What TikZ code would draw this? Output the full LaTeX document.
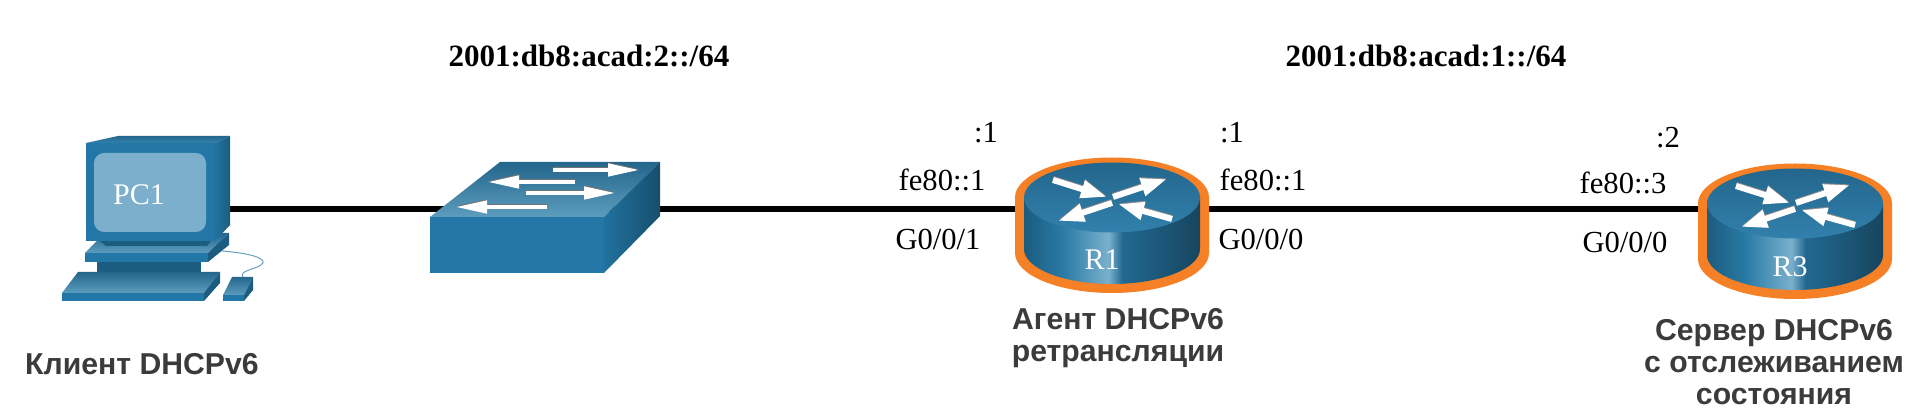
\documentclass[tikz,border=0pt]{standalone}
\usepackage{fontspec}
\setmainfont{Liberation Serif}
\setsansfont{Liberation Sans}
\usetikzlibrary{arrows.meta}
\definecolor{iconfront}{HTML}{2277A6}
\definecolor{icondark}{HTML}{1B5C80}
\definecolor{iconlight}{HTML}{5C9DBE}
\definecolor{icontop}{HTML}{24668C}
\definecolor{iconscreen}{HTML}{7BAFCC}
\definecolor{ringorange}{HTML}{F58025}
\definecolor{roletext}{HTML}{3C3A3C}
\pgfdeclarehorizontalshading{routerside}{100bp}{
    rgb(0bp)=(0.11,0.36,0.50);
    rgb(25bp)=(0.11,0.36,0.50);
    rgb(36bp)=(0.16,0.48,0.65);
    rgb(49bp)=(0.48,0.69,0.80);
    rgb(53bp)=(0.13,0.41,0.57);
    rgb(75bp)=(0.09,0.27,0.37);
    rgb(100bp)=(0.09,0.27,0.37)}
\tikzset{
    devnode/.style={inner sep=0pt, minimum size=2pt},
    link/.style={line width=2.9pt, black},
    iplabel/.style={inner sep=0pt, font=\fontsize{15.3}{18}\selectfont},
    netlabel/.style={inner sep=0pt, font=\fontsize{15.5}{18}\selectfont\bfseries},
    devlabel/.style={inner sep=0pt, white, font=\fontsize{15}{18}\selectfont},
    rolelabel/.style={inner sep=0pt, align=center, roletext, font=\fontsize{15.1}{16}\selectfont\sffamily\bfseries},
    flowshadow/.style={-{Triangle[length=16pt,width=6pt]}, line width=2.2pt, black!55},
    flow/.style={-{Triangle[length=16pt,width=6pt]}, line width=2.2pt, white},
    bigshadow/.style={-{Triangle[length=13pt,width=8.5pt]}, line width=3pt, black!45},
    bigflow/.style={-{Triangle[length=13pt,width=8.5pt]}, line width=3pt, white},
    router/.pic={
        % Orange ring
        \fill[ringorange] (-97,11.5) arc[start angle=180, end angle=0, x radius=97, y radius=40]
            -- (97,-44) arc[start angle=360, end angle=180, x radius=97, y radius=40] -- cycle;
        % Body and top
        \shade[shading=routerside] (-88,11.5) -- (88,11.5) -- (88,-40)
            arc[start angle=360, end angle=180, x radius=88, y radius=35] -- cycle;
        \shade[top color=icontop, bottom color=iconfront!75!iconlight] (0,11.5) ellipse[x radius=88, y radius=35];
        % Arrows
        \foreach \ax/\ay/\bx/\by in {-59/29/-5/12, 1/12/55/30, 0/6/-54/-12, 60/-10/6/5} {
            \draw[bigshadow] (\ax,\ay+1) -- (\bx,\by+1);
            \draw[bigflow] (\ax,\ay) -- (\bx,\by);
        }
    }
}
\begin{document}
\begin{tikzpicture}[x=0.5pt, y=0.5pt]
    \useasboundingbox (0,0) rectangle (1920,411);

    % Device positions
    \node[devnode] (PC1) at (150,202) {};
    \node[devnode] (S1) at (545,202) {};
    \node[devnode] (R1) at (1112,202) {};
    \node[devnode] (R3) at (1795,202) {};

    % Draw links
    \draw[link] (PC1) -- (S1) -- (R1) -- (R3);

    % Draw PC base
    \shade[top color=icontop, bottom color=iconlight] (85,158) -- (105,178) -- (229,178) -- (208,158) -- cycle;
    \fill[iconfront] (85,158) rectangle (208,149);
    \fill[icondark] (208,158) -- (229,178) -- (229,166) -- (208,149) -- cycle;
    \fill[icondark] (100,170) -- (211,170) -- (207,165) -- (106,165) -- cycle;
    \fill[icondark] (97,149) rectangle (201,139);

    % Draw monitor
    \fill[iconfront] (86,170) rectangle (215,268);
    \shade[top color=icontop, bottom color=iconfront!70!iconlight] (86,268) -- (118,275) -- (230,275) -- (215,268) -- cycle;
    \shade[left color=iconfront!85!icondark, right color=icondark] (215,268) -- (230,275) -- (230,186) -- (215,170) -- cycle;
    \fill[iconscreen, rounded corners=5pt] (94,179) rectangle (206,258);
    \node[devlabel] (pclabel) at (139,216) {PC1};

    % Draw keyboard
    \shade[top color=icontop, bottom color=iconlight] (78,139) -- (220,139) -- (204,118) -- (62,118) -- cycle;
    \fill[iconfront] (62,118) rectangle (204,110);
    \fill[icondark] (220,139) -- (220,128) -- (204,110) -- (204,118) -- cycle;

    % Draw mouse
    \draw[iconfront!70!white, line width=0.5pt] (222,160) .. controls (250,158) and (270,152) .. (261,146) .. controls (256,142) and (238,140) .. (243,134);
    \shade[top color=icontop, bottom color=iconlight] (232,134) -- (253,134) -- (244,116) -- (223,116) -- cycle;
    \fill[iconfront] (223,116) rectangle (244,110);
    \fill[icondark] (253,134) -- (253,121) -- (244,110) -- (244,116) -- cycle;

    % Draw switch
    \fill[iconfront] (430,194) rectangle (604,138);
    \shade[top color=icontop, bottom color=iconlight] (430,194) -- (500,249) -- (660,249) -- (604,194) -- cycle;
    \shade[left color=iconfront!80!icondark, right color=icondark!85!black] (604,194) -- (660,249) -- (660,195) -- (604,138) -- cycle;
    \foreach \tail/\tip/\y in {553/640/241, 575/487/229, 526/616/218, 547/455/204} {
        \draw[flowshadow] (\tail,\y+1) -- (\tip,\y+1);
        \draw[flow] (\tail,\y) -- (\tip,\y);
    }

    % Draw routers
    \pic at (1112,202) {router};
    \pic at (1795,196) {router};
    \node[devlabel] (r1label) at (1102,151) {R1};
    \node[devlabel] (r3label) at (1790,144) {R3};

    % Network labels
    \node[netlabel] (net2) at (589,355) {2001:db8:acad:2::/64};
    \node[netlabel] (net1) at (1426,355) {2001:db8:acad:1::/64};

    % Interface labels
    \node[iplabel] (r1left) at (986,278) {:1};
    \node[iplabel] (r1leftll) at (942,231) {fe80::1};
    \node[iplabel] (r1leftif) at (938,172) {G0/0/1};
    \node[iplabel] (r1right) at (1232,278) {:1};
    \node[iplabel] (r1rightll) at (1263,231) {fe80::1};
    \node[iplabel] (r1rightif) at (1261,172) {G0/0/0};
    \node[iplabel] (r3left) at (1668,273) {:2};
    \node[iplabel] (r3leftll) at (1623,228) {fe80::3};
    \node[iplabel] (r3leftif) at (1625,169) {G0/0/0};

    % Role labels
    \node[rolelabel] (pcrole) at (142,47) {Клиент DHCPv6};
    \node[rolelabel] (r1role) at (1118,73) {Агент DHCPv6\\ретрансляции};
    \node[rolelabel] (r3role) at (1774,49) {Сервер DHCPv6\\с отслеживанием\\состояния};
\end{tikzpicture}
\end{document}
